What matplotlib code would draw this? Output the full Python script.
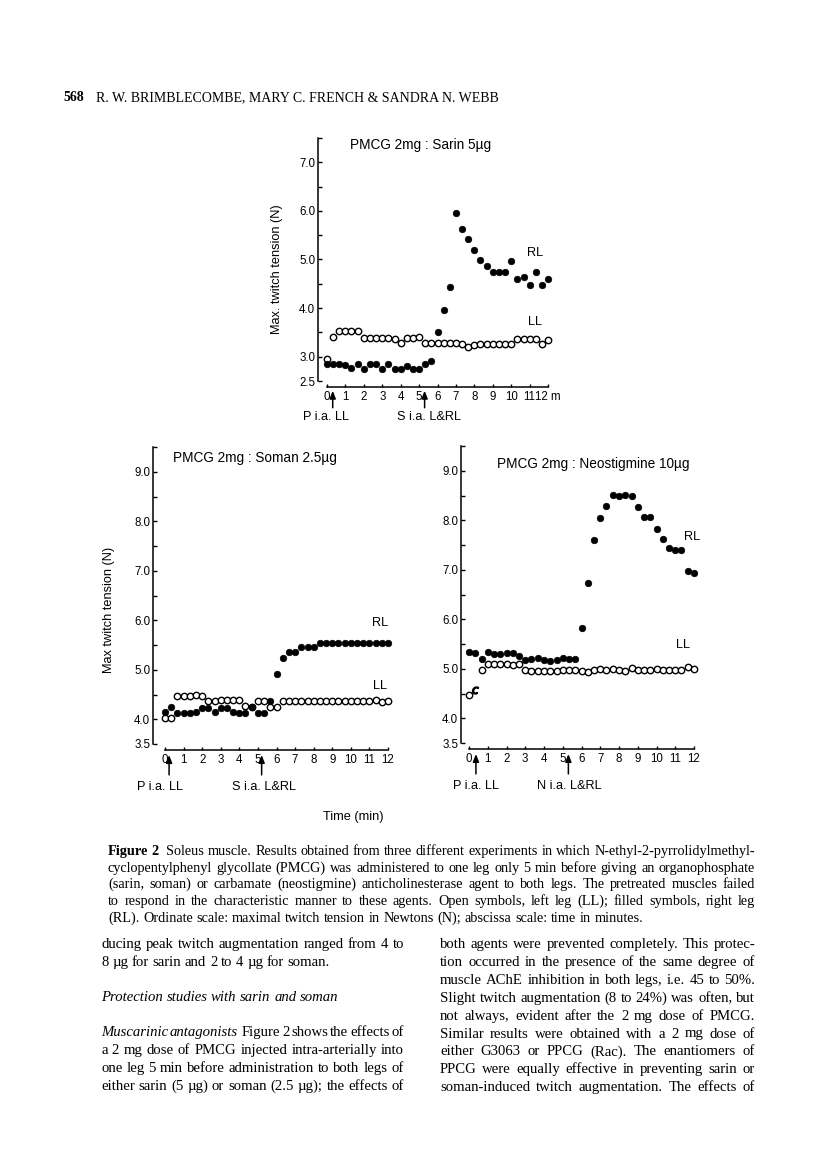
import numpy as np
import matplotlib
matplotlib.use('Agg')
import matplotlib.pyplot as plt

W, H = 816, 1149

plt.rcParams['font.family'] = ['Liberation Sans', 'DejaVu Sans']

# time of each twitch reading (min), one every 20 s
minutes = [0, 0.33, 0.67, 1, 1.33, 1.67, 2, 2.33, 2.67, 3, 3.33, 3.67, 4, 4.33,
           4.67, 5, 5.33, 5.67, 6, 6.33, 6.67, 7, 7.33, 7.67, 8, 8.33, 8.67,
           9, 9.33, 9.67, 10, 10.33, 10.67, 11, 11.33, 11.67, 12]

# PMCG 2mg : Sarin 5ug
sarin_ll = [2.95, 3.41, 3.52, 3.52, 3.53, 3.53, 3.38, 3.38, 3.38, 3.38, 3.38,
            3.36, 3.29, 3.38, 3.38, 3.40, 3.28, 3.28, 3.28, 3.28, 3.28, 3.28,
            3.27, 3.19, 3.25, 3.26, 3.26, 3.26, 3.26, 3.26, 3.26, 3.36, 3.36,
            3.37, 3.37, 3.26, 3.34]
sarin_rl = [2.84, 2.84, 2.84, 2.83, 2.76, 2.84, 2.75, 2.84, 2.84, 2.74, 2.84,
            2.74, 2.74, 2.81, 2.74, 2.74, 2.84, 2.92, 3.51, 3.97, 4.43, 5.95,
            5.63, 5.42, 5.20, 4.98, 4.87, 4.75, 4.75, 4.75, 4.96, 4.60, 4.65,
            4.48, 4.74, 4.48, 4.60]

# PMCG 2mg : Soman 2.5ug
soman_ll = [4.03, 4.03, 4.47, 4.47, 4.47, 4.48, 4.47, 4.37, 4.37, 4.38, 4.38,
            4.38, 4.38, 4.27, 4.25, 4.37, 4.37, 4.24, 4.24, 4.37, 4.37, 4.37,
            4.37, 4.37, 4.37, 4.37, 4.37, 4.37, 4.37, 4.37, 4.37, 4.37, 4.37,
            4.37, 4.39, 4.34, 4.37]
soman_rl = [4.14, 4.25, 4.13, 4.13, 4.13, 4.15, 4.22, 4.23, 4.15, 4.23, 4.23,
            4.14, 4.13, 4.12, 4.25, 4.12, 4.12, 4.37, 4.91, 5.23, 5.36, 5.36,
            5.45, 5.45, 5.45, 5.55, 5.55, 5.55, 5.55, 5.55, 5.55, 5.55, 5.55,
            5.55, 5.54, 5.54, 5.54]

# PMCG 2mg : Neostigmine 10ug  (2nd LL reading is printed as a small "c")
neo_ll = [4.47, 4.57, 4.97, 5.09, 5.09, 5.09, 5.09, 5.08, 5.09, 4.98, 4.96,
          4.96, 4.96, 4.95, 4.95, 4.97, 4.97, 4.97, 4.95, 4.93, 4.98, 5.00,
          4.98, 5.00, 4.98, 4.95, 5.01, 4.98, 4.97, 4.97, 4.99, 4.97, 4.98,
          4.98, 4.98, 5.03, 4.99]
neo_rl = [5.33, 5.31, 5.19, 5.33, 5.30, 5.29, 5.31, 5.31, 5.25, 5.18, 5.20,
          5.21, 5.18, 5.16, 5.18, 5.21, 5.19, 5.19, 5.83, 6.73, 7.60, 8.04,
          8.28, 8.51, 8.49, 8.51, 8.49, 8.26, 8.06, 8.06, 7.82, 7.62, 7.43,
          7.39, 7.39, 6.98, 6.93]

caption_lines = [
    "Soleus muscle. Results obtained from three different experiments in which N-ethyl-2-pyrrolidylmethyl-",
    "cyclopentylphenyl glycollate (PMCG) was administered to one leg only 5 min before giving an organophosphate",
    "(sarin, soman) or carbamate (neostigmine) anticholinesterase agent to both legs. The pretreated muscles failed",
    "to respond in the characteristic manner to these agents. Open symbols, left leg (LL); filled symbols, right leg",
    "(RL). Ordinate scale: maximal twitch tension in Newtons (N); abscissa scale: time in minutes.",
]
left_col = [
    "ducing peak twitch augmentation ranged from 4 to",
    "8 \u00b5g for sarin and 2 to 4 \u00b5g for soman.",
]
left_col2 = [
    "a 2 mg dose of PMCG injected intra-arterially into",
    "one leg 5 min before administration to both legs of",
    "either sarin (5 \u00b5g) or soman (2.5 \u00b5g); the effects of",
]
right_col = [
    "both agents were prevented completely. This protec-",
    "tion occurred in the presence of the same degree of",
    "muscle AChE inhibition in both legs, i.e. 45 to 50%.",
    "Slight twitch augmentation (8 to 24%) was often, but",
    "not always, evident after the 2 mg dose of PMCG.",
    "Similar results were obtained with a 2 mg dose of",
    "either G3063 or PPCG (Rac). The enantiomers of",
    "PPCG were equally effective in preventing sarin or",
    "soman-induced twitch augmentation. The effects of",
]

fig = plt.figure(figsize=(W / 100, H / 100), dpi=100)
fig.patch.set_facecolor('white')
renderer = fig.canvas.get_renderer()


def fxy(x, y):
    return x / W, 1 - y / H


def make_axes(spine_x, x0, x12, right, top, bottom, ylo, yhi, last_label='12'):
    k = (x12 - x0) / 12
    ax = fig.add_axes([spine_x / W, 1 - bottom / H, (right - spine_x) / W, (bottom - top) / H])
    ax.set_xlim(-(x0 - spine_x) / k, 12 + (right - x12) / k)
    ax.set_ylim(ylo, yhi)
    for s in ['top', 'right']:
        ax.spines[s].set_visible(False)
    ax.spines['left'].set_bounds(ylo, yhi)
    ax.spines['bottom'].set_position(('outward', 4.5))
    ax.spines['bottom'].set_bounds(0, 12)
    for s in ['left', 'bottom']:
        ax.spines[s].set_linewidth(1.1)
    yt = np.arange(ylo, yhi + 0.01, 0.5)
    ax.set_yticks(yt)
    ax.set_yticklabels(['%.1f' % v if (v == ylo or abs(v - round(v)) < 1e-6) else '' for v in yt])
    ax.set_xticks(range(13))
    ax.set_xticklabels([str(i) for i in range(12)] + [last_label])
    ax.tick_params(axis='y', direction='in', length=3, width=1.0, labelsize=8.3, pad=2)
    ax.tick_params(axis='x', direction='in', length=2.5, width=1.0, labelsize=8.3, pad=3)
    ax.patch.set_alpha(0)
    return ax


def draw_series(ax, ll, rl, c_index=None):
    t_open = [t for i, t in enumerate(minutes) if i != c_index]
    v_open = [v for i, v in enumerate(ll) if i != c_index]
    ax.plot(t_open, v_open, 'o', ms=4.6, mfc='white', mec='black', mew=1.0, clip_on=False)
    if c_index is not None:
        ax.plot([minutes[c_index]], [ll[c_index]], marker='$c$', ms=5, color='black',
                ls='none', clip_on=False)
    ax.plot(minutes, rl, 'o', ms=4.7, mfc='black', mec='black', mew=0.5, clip_on=False)


def arrow(ax, t, y_head, y_tail):
    ax.annotate('', xy=(t, y_head), xytext=(t, y_tail),
                xycoords=ax.get_xaxis_transform(), textcoords=ax.get_xaxis_transform(),
                arrowprops=dict(arrowstyle='-|>,head_length=0.45,head_width=0.18',
                                color='black', lw=1.1, shrinkA=0, shrinkB=0))


LAB = 9.2

# top panel : sarin
ax1 = make_axes(318, 327, 548, 556, 138, 381, 2.5, 7.5, last_label='12 m')
draw_series(ax1, sarin_ll, sarin_rl)
arrow(ax1, 0.31, -0.04, -0.11)
arrow(ax1, 5.3, -0.04, -0.11)
ax1.text(-1.3, -0.148, 'P i.a. LL', transform=ax1.get_xaxis_transform(), fontsize=LAB, va='center')
ax1.text(3.8, -0.148, 'S i.a. L&RL', transform=ax1.get_xaxis_transform(), fontsize=LAB, va='center')
fig.text(*fxy(350, 145), 'PMCG 2mg : Sarin 5\u00b5g', fontsize=9.8, va='center')
fig.text(*fxy(535, 253), 'RL', fontsize=LAB, va='center', ha='center')
fig.text(*fxy(535, 322), 'LL', fontsize=LAB, va='center', ha='center')
fig.text(*fxy(277, 269), 'Max. twitch tension (N)', fontsize=9.2, rotation=90, va='center', ha='center')

# bottom left : soman
ax2 = make_axes(153, 165, 388, 396, 447, 744, 3.5, 9.5)
draw_series(ax2, soman_ll, soman_rl)
arrow(ax2, 0.22, -0.037, -0.104)
arrow(ax2, 5.2, -0.037, -0.104)
ax2.text(-1.5, -0.145, 'P i.a. LL', transform=ax2.get_xaxis_transform(), fontsize=LAB, va='center')
ax2.text(3.6, -0.145, 'S i.a. L&RL', transform=ax2.get_xaxis_transform(), fontsize=LAB, va='center')
fig.text(*fxy(173, 458), 'PMCG 2mg : Soman 2.5\u00b5g', fontsize=9.8, va='center')
fig.text(*fxy(380, 623), 'RL', fontsize=LAB, va='center', ha='center')
fig.text(*fxy(380, 686), 'LL', fontsize=LAB, va='center', ha='center')
fig.text(*fxy(109, 610), 'Max twitch tension (N)', fontsize=9.2, rotation=90, va='center', ha='center')

# bottom right : neostigmine
ax3 = make_axes(461, 469, 694, 702, 446, 743, 3.5, 9.5)
draw_series(ax3, neo_ll, neo_rl, c_index=1)
arrow(ax3, 0.37, -0.037, -0.104)
arrow(ax3, 5.3, -0.037, -0.104)
ax3.text(-0.85, -0.145, 'P i.a. LL', transform=ax3.get_xaxis_transform(), fontsize=LAB, va='center')
ax3.text(3.63, -0.145, 'N i.a. L&RL', transform=ax3.get_xaxis_transform(), fontsize=LAB, va='center')
fig.text(*fxy(497, 464), 'PMCG 2mg : Neostigmine 10\u00b5g', fontsize=9.8, va='center')
fig.text(*fxy(692, 537), 'RL', fontsize=LAB, va='center', ha='center')
fig.text(*fxy(683, 645), 'LL', fontsize=LAB, va='center', ha='center')

fig.text(*fxy(353, 817), 'Time (min)', fontsize=LAB, va='center', ha='center')


# ---- page text ----
SERIF = ['Liberation Serif', 'DejaVu Serif']


def put_line(x0, x1, y, words, size, justify=True):
    # words: list of (text, extra kwargs); y is the baseline in pixels
    objs = []
    for w, kw in words:
        objs.append(fig.text(0, 0, w, fontsize=size, family=SERIF, va='baseline', **kw))
    widths = [o.get_window_extent(renderer).width for o in objs]
    if justify and len(objs) > 1:
        gap = (x1 - x0 - sum(widths)) / (len(objs) - 1)
    else:
        gap = size * 0.25 * 100 / 72
    x = x0
    for o, w in zip(objs, widths):
        o.set_position(fxy(x, y))
        x += w + gap


def plain(line, **kw):
    return [(w, kw) for w in line.split(' ')]


fig.text(*fxy(63, 101), '568', fontsize=10, family=SERIF, weight='bold', va='baseline')
fig.text(*fxy(96, 101), 'R. W. BRIMBLECOMBE, MARY C. FRENCH & SANDRA N. WEBB',
         fontsize=10, family=SERIF, va='baseline')

CAP = 10.3
cap_y = [855, 872, 888, 905, 922]
first = [('Figure', dict(weight='bold')), ('2 ', dict(weight='bold'))] + plain(caption_lines[0])
put_line(108, 755, cap_y[0], first, CAP)
for i in range(1, 4):
    put_line(108, 755, cap_y[i], plain(caption_lines[i]), CAP)
put_line(108, 755, cap_y[4], plain(caption_lines[4]), CAP, justify=False)

BODY = 10.6
put_line(101, 404, 948, plain(left_col[0]), BODY)
put_line(101, 404, 966, plain(left_col[1]), BODY, justify=False)
put_line(101, 404, 1001, plain('Protection studies with sarin and soman', style='italic'), BODY, justify=False)
mus = plain('Muscarinic antagonists', style='italic') + [('', {})] + plain('Figure 2 shows the effects of')
put_line(101, 404, 1036, mus, BODY)
for i, line in enumerate(left_col2):
    put_line(101, 404, 1054 + 18 * i, plain(line), BODY)

for i, line in enumerate(right_col):
    put_line(440, 755, 948 + 17.9 * i, plain(line), BODY)

fig.savefig('out.png', dpi=100, facecolor='white')
